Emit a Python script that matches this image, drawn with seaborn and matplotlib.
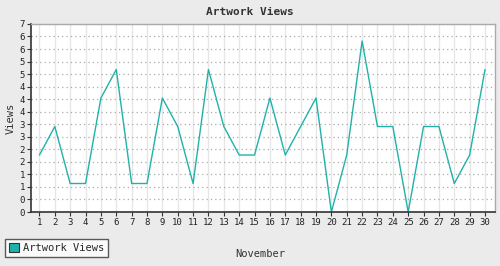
import numpy as np
import pandas as pd
import matplotlib
matplotlib.use("Agg")
import matplotlib.pyplot as plt
from matplotlib.patches import Patch
import seaborn as sns

days = list(range(1, 31))
views = [2, 3, 1, 1, 4, 5, 1, 1, 4, 3, 1, 5, 3, 2, 2, 4, 2, 3, 4, 0,
         2, 6, 3, 3, 0, 3, 3, 1, 2, 5]
y_max = 6.6
y_tick_labels = ["0", "0", "1", "1", "2", "2", "3", "3", "4", "4", "4",
                 "5", "5", "6", "6", "7"]

sns.set_theme(style="white")
plt.rcParams["font.family"] = ["DejaVu Sans Mono"]

color = "#20b2aa"
df = pd.DataFrame({"Day": days, "Artwork Views": views})

fig = plt.figure(figsize=(5, 2.66), dpi=100, facecolor="#ebebeb")
ax = fig.add_axes([0.062, 0.203, 0.928, 0.707])
ax.set_facecolor("white")

sns.lineplot(data=df, x="Day", y="Artwork Views", ax=ax, color=color,
             linewidth=1.0, legend=False)

ax.set_xlim(0.45, 30.65)
ax.set_ylim(0, y_max)
ax.set_xticks(days)
ax.set_xticklabels([str(d) for d in days], fontsize=6.5, color="#222222")
yt = np.linspace(0, y_max, len(y_tick_labels))
ax.set_yticks(yt)
ax.set_yticklabels(y_tick_labels, fontsize=6.5, color="#222222")

ax.grid(axis="x", color="#e6e6e6", linewidth=1.0, linestyle="-")
ax.grid(axis="y", color="#aaaaaa", linewidth=0.9, linestyle=(0, (1, 2.5)))
ax.set_axisbelow(True)

ax.tick_params(axis="both", which="both", length=3, width=0.8,
               color="#333333", pad=1.5, direction="out",
               bottom=True, left=True)
for s in ["top", "right"]:
    ax.spines[s].set_color("#aaaaaa")
    ax.spines[s].set_linewidth(1.0)
for s in ["left", "bottom"]:
    ax.spines[s].set_color("#333333")
    ax.spines[s].set_linewidth(1.2)

ax.set_xlabel("")
ax.set_ylabel("")
fig.text(0.5, 0.955, "Artwork Views", ha="center", va="center",
         fontsize=8, fontweight="bold", color="#333333")
fig.text(0.022, 0.555, "Views", ha="center", va="center", rotation=90,
         fontsize=7.5, color="#333333")
fig.text(0.52, 0.045, "November", ha="center", va="center",
         fontsize=7.5, color="#333333")

handle = Patch(facecolor=color, edgecolor="#333333", linewidth=0.8,
               label="Artwork Views")
leg = fig.legend(handles=[handle], loc="lower left",
                 bbox_to_anchor=(0.01, 0.035), fontsize=7.5, frameon=True,
                 fancybox=False, handlelength=1.0, handleheight=1.0,
                 handletextpad=0.4, borderpad=0.35, borderaxespad=0)
leg.get_frame().set_edgecolor("#333333")
leg.get_frame().set_linewidth(1.0)
leg.get_frame().set_facecolor("white")

fig.savefig("out.png", dpi=100, facecolor=fig.get_facecolor())
